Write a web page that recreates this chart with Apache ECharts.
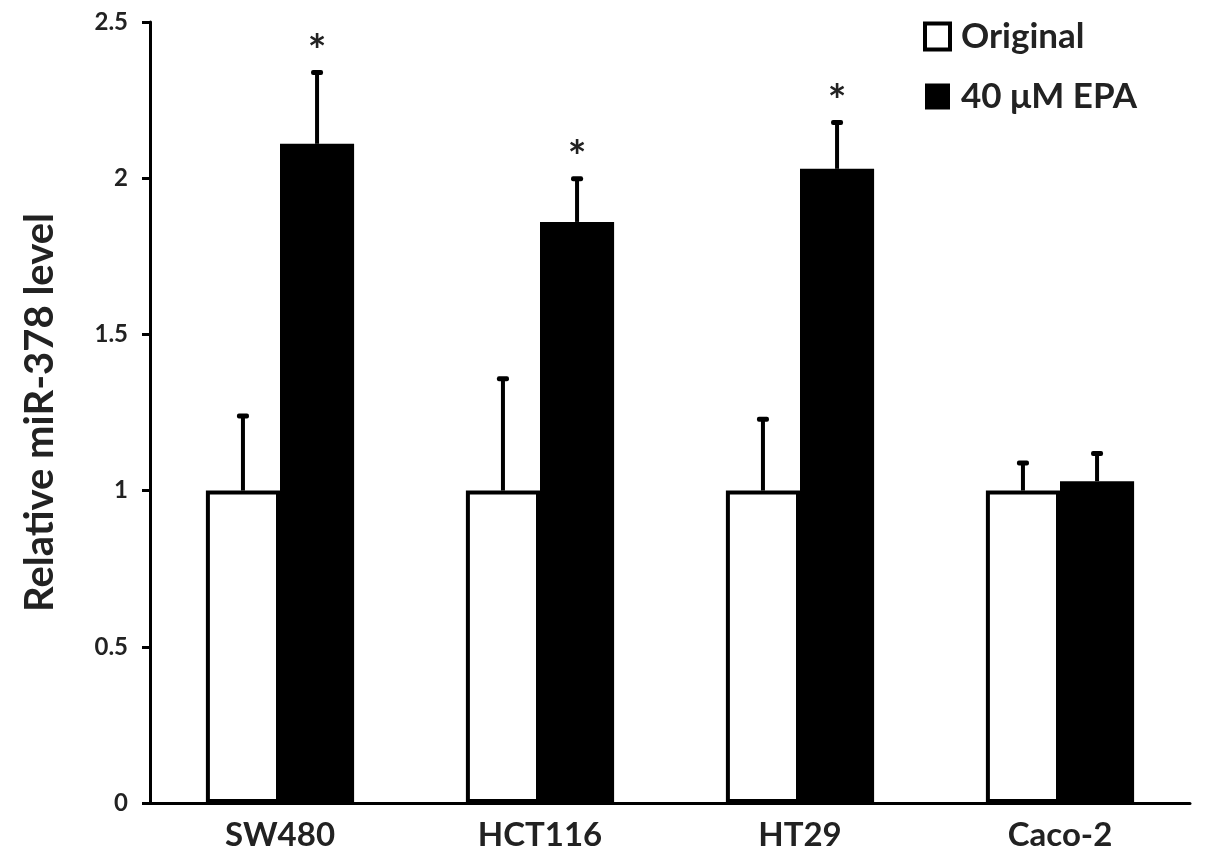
<!DOCTYPE html>
<html>
<head>
<meta charset="utf-8">
<script src="https://cdn.jsdelivr.net/npm/echarts@6/dist/echarts.min.js"></script>
<style>
  html, body { margin: 0; padding: 0; background: #fff; }
  #chart { width: 1205px; height: 865px; }
</style>
</head>
<body>
<div id="chart"></div>
<script>
// cell lines
var categories = ['SW480', 'HCT116', 'HT29', 'Caco-2'];
// relative miR-378 level, untreated
var originalMeans = [1, 1, 1, 1];
var originalErrs = [0.24, 0.36, 0.23, 0.09];
// relative miR-378 level, 40 uM EPA
var epaMeans = [2.11, 1.86, 2.03, 1.03];
var epaErrs = [0.23, 0.14, 0.15, 0.09];
var epaMarks = ['*', '*', '*', ''];
var yTicks = [0, 0.5, 1, 1.5, 2, 2.5];

var FONT = 'Lato, "Open Sans", sans-serif';
var CAT_GAP = 0.43;

// error bar drawing, side = -1 left bar, +1 right bar
function errorBars(side, means, errs, marks) {
	return {
		type: 'custom',
		silent: true,
		z: 5,
		data: categories.map(function(c, i) {
			return [i, means[i], errs[i]];
		}),
		renderItem: function(params, api) {
			var band = api.size([1, 0])[0];
			var barW = band * (1 - CAT_GAP) / 2;
			var base = api.coord([api.value(0), api.value(1)]);
			var top = api.coord([api.value(0), api.value(1) + api.value(2)]);
			var x = base[0] + side * barW / 2;
			var children = [{
				type: 'line',
				shape: { x1: x, y1: base[1], x2: x, y2: top[1] },
				style: { stroke: '#000', lineWidth: 4 }
			}, {
				type: 'rect',
				shape: { x: x - 6, y: top[1] - 2, width: 12, height: 5, r: 2 },
				style: { fill: '#000' }
			}];
			var mark = marks ? marks[params.dataIndex] : '';
			if (mark) {
				children.push({
					type: 'text',
					style: {
						text: mark, x: x, y: top[1] - 20,
						align: 'center', verticalAlign: 'middle',
						font: 'bold 44px ' + FONT, fill: '#222'
					}
				});
			}
			return { type: 'group', children: children };
		}
	};
}

var chart = echarts.init(document.getElementById('chart'));
var option = {
	backgroundColor: '#fff',
	animation: false,
	grid: { left: 150, right: 15, top: 22, bottom: 62, containLabel: false },
	legend: {
		left: 918,
		top: 14,
		orient: 'vertical',
		itemWidth: 25,
		itemHeight: 26,
		itemGap: 25,
		icon: 'rect',
		textStyle: { fontFamily: FONT, fontWeight: 'bold', fontSize: 35, color: '#222', padding: [0, 0, 0, 6] },
		data: [
			{ name: 'Original', itemStyle: { color: '#fff', borderColor: '#000', borderWidth: 4 } },
			{ name: '40 μM EPA', itemStyle: { color: '#000', borderWidth: 0 } }
		]
	},
	xAxis: {
		type: 'category',
		data: categories,
		axisLine: { lineStyle: { color: '#000', width: 3 } },
		axisTick: { length: 10, lineStyle: { color: '#000', width: 3 } },
		axisLabel: { margin: 16, fontFamily: FONT, fontWeight: 'bold', fontSize: 33, color: '#222' }
	},
	yAxis: {
		type: 'value',
		min: yTicks[0],
		max: yTicks[yTicks.length - 1],
		interval: 0.5,
		name: 'Relative miR-378 level',
		nameLocation: 'middle',
		nameGap: 90,
		nameRotate: 90,
		nameTextStyle: { fontFamily: FONT, fontWeight: 'bold', fontSize: 40, color: '#222' },
		axisLine: { show: true, lineStyle: { color: '#000', width: 3 } },
		axisTick: { show: true, length: 8, lineStyle: { color: '#000', width: 3 } },
		axisLabel: { margin: 22, fontFamily: FONT, fontWeight: 'bold', fontSize: 24, color: '#222' },
		splitLine: { show: false }
	},
	series: [{
		name: 'Original',
		type: 'bar',
		barGap: '0%',
		barCategoryGap: (CAT_GAP * 100) + '%',
		data: originalMeans,
		itemStyle: { color: '#fff', borderColor: '#000', borderWidth: 4 }
	}, {
		name: '40 μM EPA',
		type: 'bar',
		data: epaMeans,
		itemStyle: { color: '#000', borderColor: '#000', borderWidth: 0 }
	},
	errorBars(-1, originalMeans, originalErrs, null),
	errorBars(1, epaMeans, epaErrs, epaMarks)
	]
};
chart.setOption(option);
</script>
</body>
</html>
